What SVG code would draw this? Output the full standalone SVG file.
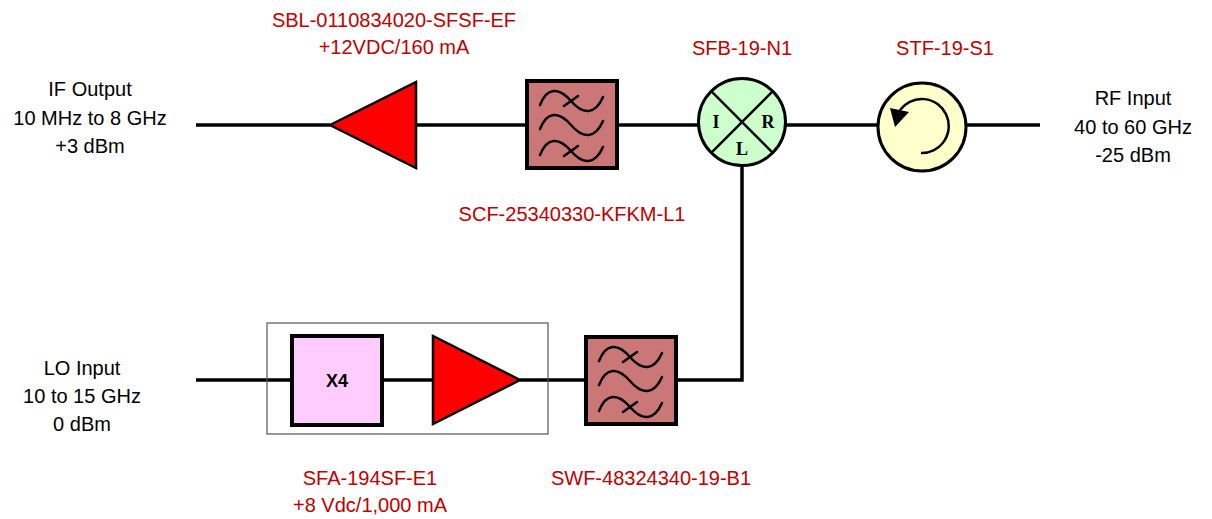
<svg xmlns="http://www.w3.org/2000/svg" width="1212" height="519" viewBox="0 0 1212 519">
<style>
.wire{stroke:#000;stroke-width:3.5;fill:none}
.lbl{font-family:"Liberation Sans",Arial,sans-serif;font-size:20px;fill:#000;text-anchor:middle}
.red{font-family:"Liberation Sans",Arial,sans-serif;font-size:20px;fill:#c00000;text-anchor:middle}
.port{font-family:"Liberation Serif","Times New Roman",serif;font-size:18px;font-weight:bold;fill:#000;text-anchor:middle}
.amp{fill:#ff0000;stroke:#000;stroke-width:2.5;stroke-linejoin:miter}
.wave{fill:none;stroke:#000;stroke-width:2.5;stroke-linecap:round}
</style>
<defs>
<g id="filt">
<rect x="0" y="0" width="90" height="87" fill="#cc7777" stroke="#000" stroke-width="4"/>
<path class="wave" d="M13,24 C20,6 32,6 44,20 S68,34 76,16"/>
<path class="wave" d="M44,20 m-7,5 l14,-10"/>
<path class="wave" d="M13,48 C20,30 32,30 44,44 S68,58 76,40"/>
<path class="wave" d="M13,74 C20,56 32,56 44,70 S68,84 76,66"/>
<path class="wave" d="M44,70 m-7,5 l14,-10"/>
</g>
</defs>
<g id="connectors">
<line class="wire" x1="196" y1="125" x2="330" y2="125"/>
<line class="wire" x1="416" y1="125" x2="527" y2="125"/>
<line class="wire" x1="617" y1="125" x2="698" y2="125"/>
<line class="wire" x1="786" y1="125" x2="878" y2="125"/>
<line class="wire" x1="966" y1="125" x2="1040" y2="125"/>
<polyline class="wire" points="742,166 742,380 674,380"/>
<line class="wire" x1="196" y1="380" x2="292" y2="380"/>
<line class="wire" x1="382" y1="380" x2="433" y2="380"/>
<line class="wire" x1="520" y1="380" x2="587" y2="380"/>
</g>
<g id="if-output">
<text class="lbl" x="90" y="96">IF Output</text>
<text class="lbl" x="90" y="125">10 MHz to 8 GHz</text>
<text class="lbl" x="90" y="153">+3 dBm</text>
</g>
<g id="amp-top">
<polygon class="amp" points="330,125 416,82 416,168"/>
<text class="red" x="394" y="27">SBL-0110834020-SFSF-EF</text>
<text class="red" x="394" y="54">+12VDC/160 mA</text>
</g>
<g id="filter-top">
<use href="#filt" x="527" y="81"/>
<text class="red" x="572" y="221">SCF-25340330-KFKM-L1</text>
</g>
<g id="mixer">
<circle cx="742" cy="122" r="43.5" fill="#ccffcc" stroke="#000" stroke-width="3"/>
<line x1="711.2" y1="91.2" x2="772.8" y2="152.8" stroke="#000" stroke-width="2.5"/>
<line x1="772.8" y1="91.2" x2="711.2" y2="152.8" stroke="#000" stroke-width="2.5"/>
<text class="port" x="716" y="128">I</text>
<text class="port" x="768" y="128">R</text>
<text class="port" x="742" y="155">L</text>
<text class="red" x="742" y="55">SFB-19-N1</text>
</g>
<g id="circulator">
<circle cx="922" cy="127" r="44" fill="#ffffcc" stroke="#000" stroke-width="3"/>
<path d="M921,153 A27,27 0 1 0 900,110" fill="none" stroke="#000" stroke-width="2.5"/>
<polygon points="890,108 909,112 895,127" fill="#000"/>
<text class="red" x="945" y="55">STF-19-S1</text>
</g>
<g id="rf-input">
<text class="lbl" x="1133" y="105">RF Input</text>
<text class="lbl" x="1133" y="134">40 to 60 GHz</text>
<text class="lbl" x="1133" y="162">-25 dBm</text>
</g>
<g id="lo-input">
<text class="lbl" x="82" y="375">LO Input</text>
<text class="lbl" x="82" y="403">10 to 15 GHz</text>
<text class="lbl" x="82" y="431">0 dBm</text>
</g>
<g id="lo-chain">
<rect x="267" y="323" width="281" height="111" fill="none" stroke="#555" stroke-width="1.2"/>
<text class="red" x="370" y="485">SFA-194SF-E1</text>
<text class="red" x="370" y="512">+8 Vdc/1,000 mA</text>
</g>
<g id="multiplier">
<rect x="292" y="336" width="90" height="89" fill="#ffccff" stroke="#000" stroke-width="4"/>
<text x="337" y="387" font-family="Liberation Sans,Arial,sans-serif" font-size="18" font-weight="bold" text-anchor="middle">X4</text>
</g>
<g id="amp-lo">
<polygon class="amp" points="433,336 433,424 520,380"/>
</g>
<g id="filter-lo">
<use href="#filt" x="586" y="337"/>
<text class="red" x="651" y="485">SWF-48324340-19-B1</text>
</g>
</svg>
